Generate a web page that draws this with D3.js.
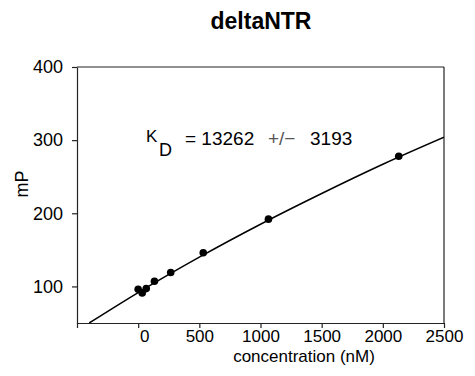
<!DOCTYPE html>
<html>
<head>
<meta charset="utf-8">
<script src="https://cdn.jsdelivr.net/npm/d3@7"></script>
<style>
  html, body { margin: 0; padding: 0; background: #fff; }
  svg { display: block; font-family: Arial, "Liberation Sans", Helvetica, sans-serif; }
</style>
</head>
<body>
<svg id="chart" width="475" height="376"></svg>
<script>
// ---- data ----
const concentration = [0, 33, 66, 133, 266, 532, 1065, 2130];
const mP = [96, 91, 97, 107, 119, 146, 192, 278];
// fitted curve
const fitX = [-400, 0, 500, 1000, 1500, 2000, 2500];
const fitY = [50, 91.6, 140, 185, 227, 267, 304];
const xTicks = [-500, 0, 500, 1000, 1500, 2000, 2500];
const yTicks = [100, 200, 300, 400];
const title = "deltaNTR";
const xTitle = "concentration (nM)";
const yTitle = "mP";
const kdValue = "13262";
const kdErr = "3193";

const svg = d3.select("#chart");
const x = d3.scaleLinear().domain([-500, 2500]).range([77, 444]);
const y = d3.scaleLinear().domain([50, 400]).range([323, 67]);

// clip
svg.append("defs").append("clipPath").attr("id", "clip")
  .append("rect").attr("x", 77).attr("y", 67).attr("width", 444 - 77).attr("height", 323 - 67);

// frame top & right
svg.append("line").attr("x1", 77).attr("x2", 444).attr("y1", 67).attr("y2", 67)
  .attr("stroke", "#222").attr("stroke-width", 1.2);
svg.append("line").attr("x1", 444).attr("x2", 444).attr("y1", 67).attr("y2", 323)
  .attr("stroke", "#222").attr("stroke-width", 1.2);

// axes
const xAxis = svg.append("g").attr("transform", "translate(0,323)")
  .call(d3.axisBottom(x).tickValues(xTicks).tickSize(5).tickSizeOuter(0).tickPadding(2)
    .tickFormat(d => d < 0 ? "" : d));
const yAxis = svg.append("g").attr("transform", "translate(77,0)")
  .call(d3.axisLeft(y).tickValues(yTicks).tickSize(5).tickSizeOuter(0).tickPadding(9));
[xAxis, yAxis].forEach(g => {
  g.selectAll("path, line").attr("stroke", "#222").attr("stroke-width", 1.2);
  g.selectAll("text").attr("fill", "#000")
    .style("font-family", "Arial, 'Liberation Sans', sans-serif");
});
xAxis.selectAll("text").style("font-size", "17px");
yAxis.selectAll("text").style("font-size", "18px");
xAxis.selectAll("text").filter(d => d === 0).attr("dx", 6);

// fit curve
const line = d3.line().x((d, i) => x(fitX[i])).y(d => y(d)).curve(d3.curveMonotoneX);
svg.append("path").datum(fitY).attr("d", line).attr("clip-path", "url(#clip)")
  .attr("fill", "none").attr("stroke", "#000").attr("stroke-width", 1.5);

// points
svg.append("g").selectAll("circle").data(concentration).join("circle")
  .attr("cx", d => x(d)).attr("cy", (d, i) => y(mP[i])).attr("r", 3.8).attr("fill", "#000");

// title
svg.append("text").attr("x", 261).attr("y", 29).attr("text-anchor", "middle")
  .style("font-size", "23px").style("font-weight", "bold").text(title);

// axis titles
svg.append("text").attr("x", 304).attr("y", 362).attr("text-anchor", "middle")
  .style("font-size", "17px").text(xTitle);
svg.append("text").attr("transform", "translate(28,184) rotate(-90)").attr("text-anchor", "middle")
  .style("font-size", "18px").text(yTitle);

// annotation
svg.append("text").attr("x", 146).attr("y", 142).style("font-size", "17px").text("K");
svg.append("text").attr("x", 159).attr("y", 156).style("font-size", "18px").text("D");
svg.append("text").attr("x", 185).attr("y", 145).style("font-size", "19px").text("= " + kdValue);
svg.append("text").attr("x", 268).attr("y", 145).style("font-size", "19px").attr("fill", "#555")
  .style("font-weight", "300").text("+/\u2212");
svg.append("text").attr("x", 310).attr("y", 145).style("font-size", "19px").text(kdErr);
</script>
</body>
</html>
